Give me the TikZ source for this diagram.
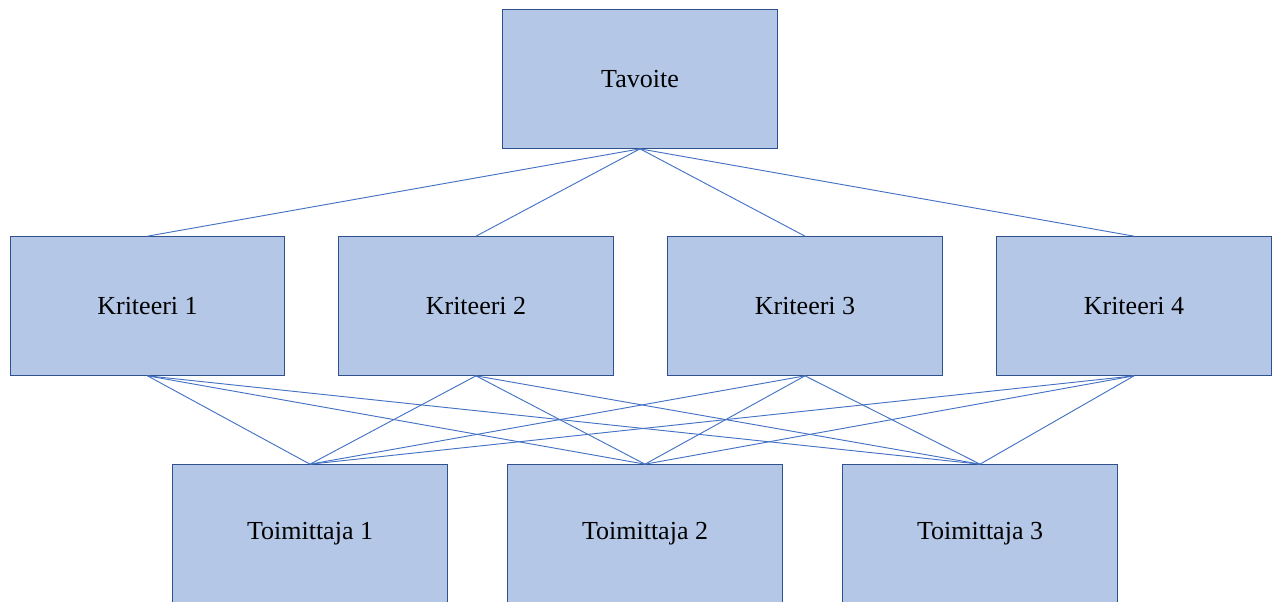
\documentclass[tikz,border=0pt]{standalone}
\usepackage{fontspec}
\setmainfont{Liberation Serif}
\definecolor{boxfill}{HTML}{B4C7E7}
\definecolor{boxline}{HTML}{2F528F}
\definecolor{linkline}{HTML}{4472C4}
\tikzset{
  level/.style={draw=boxline, fill=boxfill, line width=0.75pt, minimum width=206pt, minimum height=104pt, font=\fontsize{19.5}{22}\selectfont},
  link/.style={draw=linkline, line width=0.7pt}
}
\begin{document}
\begin{tikzpicture}[x=0.75pt, y=-0.75pt]
                \useasboundingbox (0,0) rectangle (1278,601);
                \clip (0,0) rectangle (1278,601);
                \node [level] (goal) at (640,79) {Tavoite};
                \node [level] (k1) at (147.5,306) {Kriteeri 1};
                \node [level] (k2) at (476,306) {Kriteeri 2};
                \node [level] (k3) at (805,306) {Kriteeri 3};
                \node [level] (k4) at (1134,306) {Kriteeri 4};
                \node [level] (t1) at (310,534) {Toimittaja 1};
                \node [level] (t2) at (645,534) {Toimittaja 2};
                \node [level] (t3) at (980,534) {Toimittaja 3};
                \foreach \k in {k1,k2,k3,k4}
                    \draw [link] (goal.south) -- (\k.north);
                \foreach \k in {k1,k2,k3,k4}
                    \foreach \t in {t1,t2,t3}
                        \draw [link] (\k.south) -- (\t.north);
            \end{tikzpicture}
\end{document}
